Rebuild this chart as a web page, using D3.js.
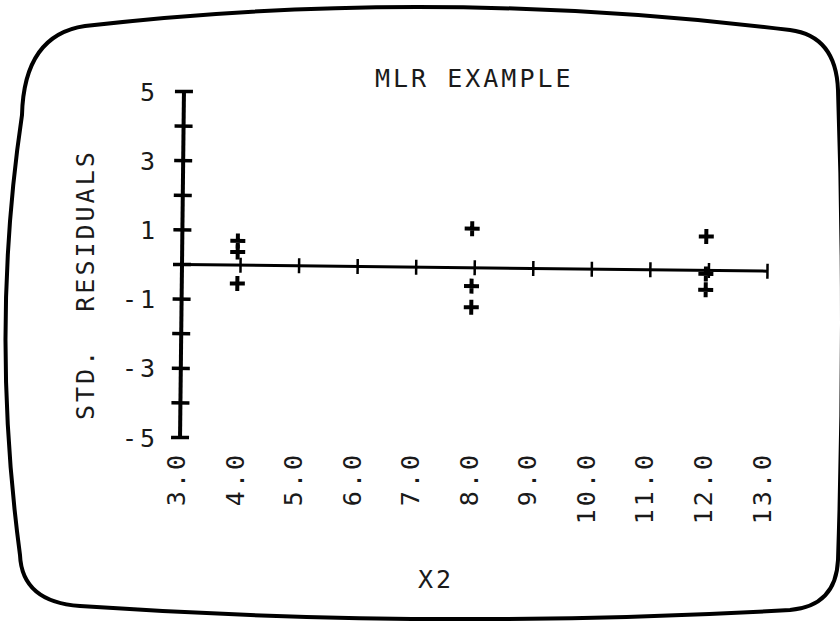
<!DOCTYPE html>
<html>
<head>
    <title>MLR Example - Std. Residuals vs X2</title>
    <script src="https://cdnjs.cloudflare.com/ajax/libs/d3/7.8.5/d3.min.js"></script>
    <style>
        body { margin: 0; background: #fff; }
        text {
            font-family: "DejaVu Sans Mono", "Liberation Mono", monospace;
            font-size: 25px;
            fill: #1a1a1a;
            white-space: pre;
        }
    </style>
</head>
<body>
    <div id="chart"></div>
    <script>
        // Data
        const x2 = [4, 4, 4, 8, 8, 8, 12, 12, 12];
        const stdResid = [0.70, 0.38, -0.53, 1.13, -0.53, -1.14, 0.98, -0.10, -0.56];

        // Axis ticks and labels
        const xTicks = [3, 4, 5, 6, 7, 8, 9, 10, 11, 12, 13];
        const xTickLabels = ["3.0", "4.0", "5.0", "6.0", "7.0", "8.0", "9.0", "10.0", "11.0", "12.0", "13.0"];
        const yTicks = [-5, -4, -3, -2, -1, 0, 1, 2, 3, 4, 5];
        const yLabelValues = [5, 3, 1, -1, -3, -5];
        const yTickLabels = ["5", "3", "1", "-1", "-3", "-5"];

        const title = "MLR EXAMPLE";
        const xTitle = "X2";
        const yTitle = "STD.  RESIDUALS";

        const W = 840, H = 622;
        const ls = 3; // letter spacing for the CRT style font
        const half = 9; // half the cap height, to centre labels

        const svg = d3.select("#chart").append("svg")
            .attr("width", W)
            .attr("height", H);

        // Scales
        const x = d3.scaleLinear().domain([3, 13]).range([182, 767.5]);
        const y = d3.scaleLinear().domain([-5, 5]).range([437.5, 91.5]);

        // CRT screen frame
        svg.append("path")
            .attr("d", "M22,115 Q24,35 85,26 Q430,-14 790,30 Q836,36 838,90 Q846,320 838,560 Q836,606 790,610 Q430,630 80,606 Q22,602 20,555 Q-10,330 22,115 Z")
            .attr("fill", "none")
            .attr("stroke", "#000")
            .attr("stroke-width", 4);

        // plot group, slightly tilted like the screen
        const plot = svg.append("g")
            .attr("transform", `rotate(0.65, ${x(3)}, ${y(0)})`);

        // Y axis line
        plot.append("line")
            .attr("x1", x(3)).attr("x2", x(3))
            .attr("y1", y(-5)).attr("y2", y(5))
            .attr("stroke", "#000")
            .attr("stroke-width", 4);

        // Y ticks (cross the axis)
        plot.selectAll(".ytick")
            .data(yTicks)
            .join("line")
            .attr("class", "ytick")
            .attr("x1", x(3) - 9).attr("x2", x(3) + 9)
            .attr("y1", d => y(d)).attr("y2", d => y(d))
            .attr("stroke", "#000")
            .attr("stroke-width", 3.5);

        // X axis line at zero
        plot.append("line")
            .attr("x1", x(3)).attr("x2", x(13))
            .attr("y1", y(0)).attr("y2", y(0))
            .attr("stroke", "#000")
            .attr("stroke-width", 3);

        // X ticks
        plot.selectAll(".xtick")
            .data(xTicks.slice(1))
            .join("line")
            .attr("class", "xtick")
            .attr("x1", d => x(d)).attr("x2", d => x(d))
            .attr("y1", y(0) - 7.5).attr("y2", y(0) + 7.5)
            .attr("stroke", "#000")
            .attr("stroke-width", 2.5);

        // Points drawn as plus signs
        const pts = x2.map((v, i) => ({x: v, r: stdResid[i]}));
        plot.selectAll(".pt")
            .data(pts)
            .join("path")
            .attr("class", "pt")
            .attr("transform", d => `translate(${x(d.x) - 3},${y(d.r)})`)
            .attr("d", "M-7.5,0H7.5M0,-7.5V7.5")
            .attr("stroke", "#000")
            .attr("stroke-width", 4)
            .attr("fill", "none");

        // Title
        svg.append("text")
            .attr("x", 375)
            .attr("y", 78 + half)
            .attr("letter-spacing", ls)
            .text(title);

        // Y tick labels (upright, only odd values)
        svg.selectAll(".ylab")
            .data(yLabelValues)
            .join("text")
            .attr("class", "ylab")
            .attr("text-anchor", "end")
            .attr("x", 155 + ls)
            .attr("y", d => y(d) + half)
            .attr("letter-spacing", ls)
            .text((d, i) => yTickLabels[i]);

        // X tick labels (rotated, reading upward)
        svg.selectAll(".xlab")
            .data(xTicks)
            .join("text")
            .attr("class", "xlab")
            .attr("text-anchor", "end")
            .attr("letter-spacing", ls)
            .attr("transform", d => `translate(${x(d) + 3},${455 - ls}) rotate(-90)`)
            .text((d, i) => xTickLabels[i]);

        // Y axis title
        svg.append("text")
            .attr("text-anchor", "start")
            .attr("letter-spacing", ls)
            .attr("transform", "translate(94,420) rotate(-90)")
            .text(yTitle);

        // X axis title
        svg.append("text")
            .attr("x", 418)
            .attr("y", 579 + half)
            .attr("letter-spacing", ls)
            .text(xTitle);
    </script>
</body>
</html>
